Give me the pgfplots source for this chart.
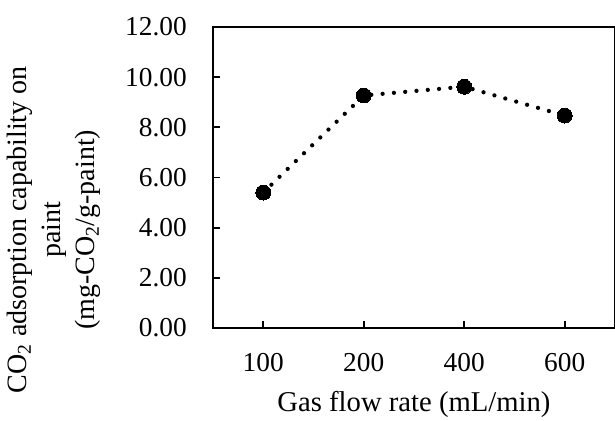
\documentclass[border=0pt]{standalone}
\usepackage{fontspec}
\setmainfont{Liberation Serif}
\usepackage{pgfplots}
\pgfplotsset{compat=1.18}
\begin{document}
\begin{tikzpicture}
\path[use as bounding box] (-159.75pt,-69.75pt) rectangle (301.5pt,246pt);
\begin{axis}[
  at={(0,0)}, anchor=south west,
  scale only axis,
  width=301.5pt, height=225.75pt,
  xmin=-0.5, xmax=3.5, ymin=0, ymax=12,
  xtick={0,1,2,3}, xticklabels={100,200,400,600},
  ytick={0,2,...,12},
  tick align=inside,
  xtick pos=bottom, ytick pos=left,
  major tick length=5pt,
  axis line style={line width=1.5pt},
  every tick/.style={line width=1.3pt, black},
  /pgf/number format/assume math mode=true,
  every tick label/.append style={font=\fontsize{20.5}{24}\selectfont, inner sep=0pt},
  yticklabel style={/pgf/number format/fixed, /pgf/number format/fixed zerofill,
    /pgf/number format/precision=2, anchor=east, xshift=-19.5pt},
  xticklabel style={anchor=base, yshift=-32.5pt},
  xlabel={Gas flow rate (mL/min)},
  every axis x label/.style={at={(axis description cs:0.5,0)}, anchor=base,
    yshift=-63pt, inner sep=0pt, font=\fontsize{21.5}{25}\selectfont},
  ylabel={CO\textsubscript{2} adsorption capability on\\paint\\(mg-CO\textsubscript{2}/g-paint)},
  every axis y label/.style={at={(axis description cs:-0.5124,0.326)}, rotate=90, anchor=north,
    inner sep=0pt, align=center, font=\fontsize{21}{25.5}\selectfont},
  clip=false,
]
\addplot[black, line width=3.2pt, line cap=round, dash pattern=on 0pt off 8.5pt,
  mark=*, mark size=5.6pt, mark options={solid, fill=black, line width=0pt}]
  coordinates {(0,5.40) (1,9.27) (2,9.62) (3,8.47)};
\end{axis}
\end{tikzpicture}
\end{document}
